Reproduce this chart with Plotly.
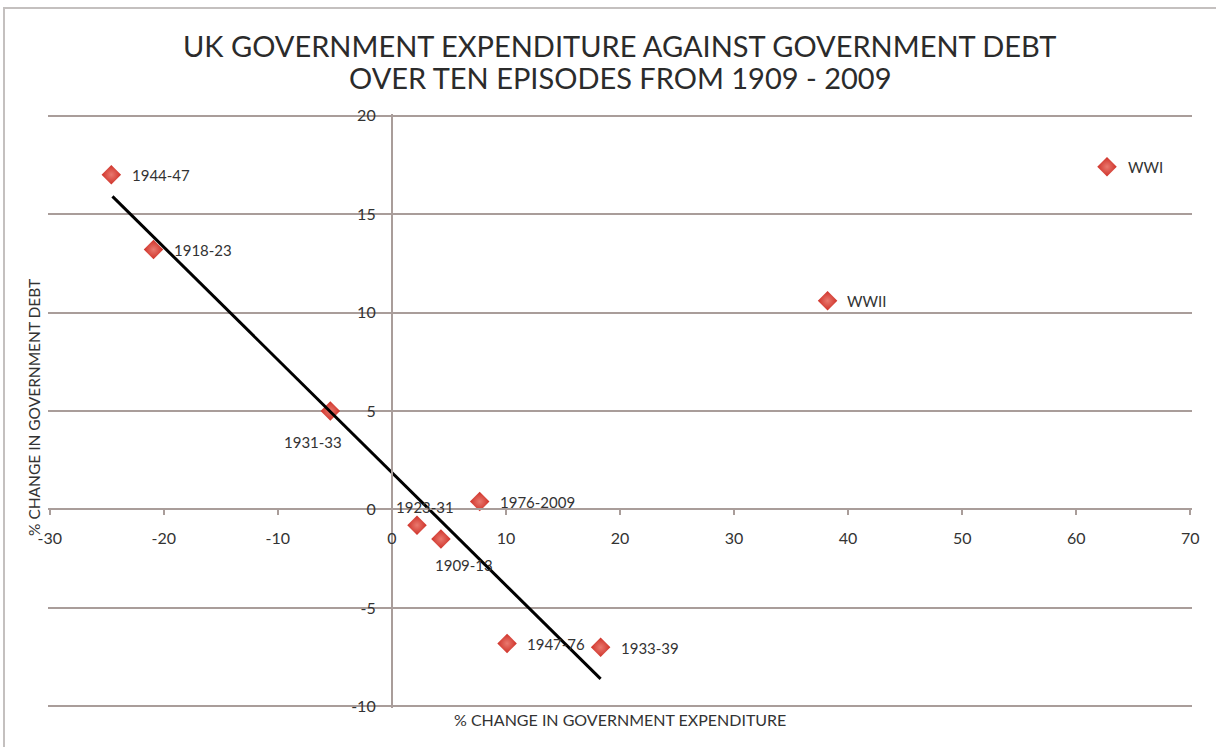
import plotly.graph_objects as go

# Episodes: % change in government expenditure (x) vs % change in government debt (y)
episodes = ["1944-47", "1918-23", "1931-33", "1923-31", "1909-13",
            "1976-2009", "1947-76", "1933-39", "WWII", "WWI"]
expenditure_change = [-24.6, -20.9, -5.4, 2.2, 4.3, 7.7, 10.1, 18.3, 38.2, 62.7]
debt_change = [17.0, 13.2, 5.0, -0.8, -1.5, 0.4, -6.8, -7.0, 10.6, 17.4]

# Trend line drawn through the peacetime episodes
trend_x = [-24.5, 18.3]
trend_y = [15.9, -8.6]

x_ticks = [-30, -20, -10, 0, 10, 20, 30, 40, 50, 60, 70]
y_ticks = [-10, -5, 0, 5, 10, 15, 20]

# Label placement for each episode: (xanchor, xshift px, yshift px)
label_style = [
    ("left", 19, 0), ("left", 18, 0), ("center", -17, -31), ("center", 8, 18),
    ("center", 23, -26), ("left", 18, 0), ("left", 18, -1), ("left", 18, -1),
    ("left", 17, 0), ("left", 19, 0),
]

W, H = 1216, 747
ML, MR, MT, MB = 48, 24, 114, 39
PW, PH = W - ML - MR, H - MT - MB


def px_x(p):
    return (p - ML) / PW


def px_y(p):
    return (H - MB - p) / PH


GRID = "#a99d9a"
TEXT = "#333333"
FONT = "Lato"

# small padding so the outermost gridlines are not clipped at the plot edge
PAD_X, PAD_Y = 0.15, 0.08
x_range = [x_ticks[0] - PAD_X, x_ticks[-1] + PAD_X]
y_range = [y_ticks[0] - PAD_Y, y_ticks[-1] + PAD_Y]

fig = go.Figure()

fig.add_trace(go.Scatter(
    x=expenditure_change, y=debt_change, mode="markers",
    marker=dict(symbol="diamond", size=15, color="#cf3128",
                gradient=dict(type="radial", color="#e9796f"),
                line=dict(width=0)),
    hoverinfo="skip", showlegend=False,
))

fig.add_trace(go.Scatter(
    x=trend_x, y=trend_y, mode="lines",
    line=dict(color="#000000", width=3),
    hoverinfo="skip", showlegend=False,
))

annotations = []
for name, xv, yv, (anchor, dx, dy) in zip(episodes, expenditure_change, debt_change, label_style):
    annotations.append(dict(
        x=xv, y=yv, xref="x", yref="y", text=name, showarrow=False,
        xanchor=anchor, yanchor="middle", xshift=dx, yshift=dy,
        font=dict(family=FONT, size=15, color=TEXT),
    ))

# Title lines
for line_text, line_y in [("UK GOVERNMENT EXPENDITURE AGAINST GOVERNMENT DEBT", 45),
                          ("OVER TEN EPISODES FROM 1909 - 2009", 77)]:
    annotations.append(dict(
        x=0.5, y=px_y(line_y), xref="paper", yref="paper", showarrow=False,
        text=line_text, xanchor="center", yanchor="middle",
        font=dict(family=FONT, size=29, color="#2b2b2b"),
    ))

# Axis titles
annotations.append(dict(
    x=0.5, y=px_y(719), xref="paper", yref="paper", showarrow=False,
    text="% CHANGE IN GOVERNMENT EXPENDITURE",
    xanchor="center", yanchor="middle",
    font=dict(family=FONT, size=16, color=TEXT),
))
annotations.append(dict(
    x=px_x(34), y=px_y(408), xref="paper", yref="paper", showarrow=False,
    text="% CHANGE IN GOVERNMENT DEBT", textangle=-90,
    xanchor="center", yanchor="middle",
    font=dict(family=FONT, size=15.5, color=TEXT),
))

# Chart frame
shapes = [dict(
    type="rect", xref="paper", yref="paper",
    x0=px_x(4), x1=px_x(1230), y0=px_y(760), y1=px_y(8),
    line=dict(color="#c4c0bf", width=2), fillcolor="rgba(0,0,0,0)", layer="below",
)]

fig.update_layout(
    width=W, height=H,
    margin=dict(l=ML, r=MR, t=MT, b=MB, pad=0),
    paper_bgcolor="white", plot_bgcolor="white",
    annotations=annotations, shapes=shapes,
    xaxis=dict(
        range=x_range, tickvals=x_ticks, ticktext=[str(v) for v in x_ticks],
        showgrid=False, zeroline=False,
        showline=True, linecolor=GRID, linewidth=2,
        ticks="outside", ticklen=5, tickwidth=1.5, tickcolor=GRID,
        anchor="free", position=(0 - y_range[0]) / (y_range[1] - y_range[0]),
        tickfont=dict(family=FONT, size=16, color=TEXT),
        ticklabelstandoff=9,
    ),
    yaxis=dict(
        range=y_range, tickvals=y_ticks, ticktext=[str(v) for v in y_ticks],
        showgrid=True, gridcolor=GRID, gridwidth=2,
        zeroline=False, showline=True, linecolor=GRID, linewidth=2, ticks="",
        anchor="free", position=(0 - x_range[0]) / (x_range[1] - x_range[0]),
        tickfont=dict(family=FONT, size=16, color=TEXT),
        ticklabelstandoff=12,
    ),
)

fig.write_html("out.html")
